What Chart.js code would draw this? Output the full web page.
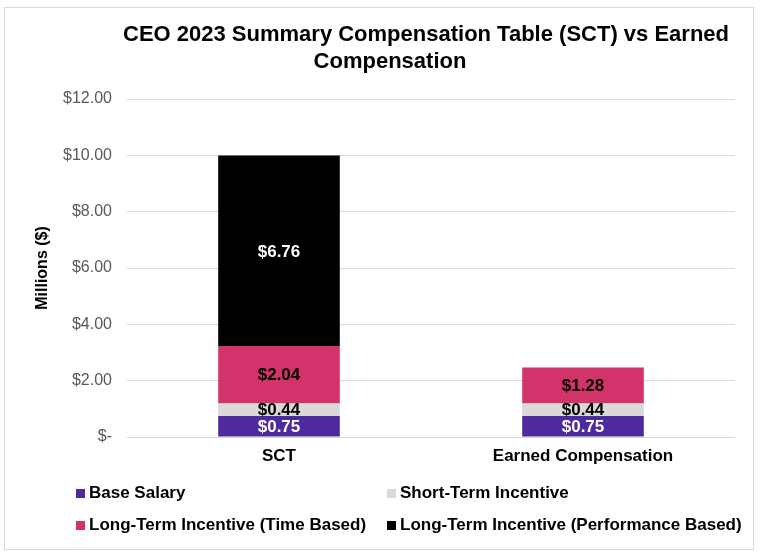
<!DOCTYPE html>
<html>
<head>
<meta charset="utf-8">
<script src="https://cdn.jsdelivr.net/npm/chart.js@4.4.1/dist/chart.umd.min.js"></script>
<style>
  body { margin: 0; background: #fff; font-family: "Liberation Sans", Arial, sans-serif; }
  #wrap { position: relative; width: 761px; height: 557px; }
  #frame { position: absolute; left: 4px; top: 7px; width: 750px; height: 543px; border: 1px solid #d9d9d9; box-sizing: border-box; }
  canvas { position: absolute; left: 0; top: 0; }
  .leg { position: absolute; font-weight: bold; font-size: 17px; color: #000; line-height: 20px; white-space: nowrap; }
  .leg span { position: absolute; left: -13px; top: 6px; width: 9px; height: 9px; }
</style>
</head>
<body>
<div id="wrap">
  <div id="frame"></div>
  <canvas id="grafico" width="761" height="557"></canvas>
  <div id="leyenda"></div>
</div>
<script>
// datos (millones de dolares)
const categorias = ['SCT', 'Earned Compensation'];
const series = ['Base Salary', 'Short-Term Incentive', 'Long-Term Incentive (Time Based)', 'Long-Term Incentive (Performance Based)'];
const baseSalary = [0.75, 0.75];
const shortTerm = [0.44, 0.44];
const ltiTiempo = [2.04, 1.28];
const ltiDesempeno = [6.76, null];
const ticksY = [0, 2, 4, 6, 8, 10, 12];

const colores = ['#4f2a9f', '#d9d9d9', '#d1336a', '#000000'];
const coloresTexto = ['#ffffff', '#000000', '#000000', '#ffffff'];
const fuente = '"Liberation Sans", Arial, sans-serif';

//Formato de los ticks: 0 se muestra como "$-"
const formatoDolar = (v) => v === 0 ? '$-' : '$' + v.toFixed(2);

//Dibuja el titulo en dos lineas
const tituloPlugin = {
  id: 'titulo',
  afterDraw(chart) {
    const ctx = chart.ctx;
    ctx.save();
    ctx.font = 'bold 22px ' + fuente;
    ctx.fillStyle = '#000';
    ctx.textAlign = 'center';
    ctx.textBaseline = 'middle';
    ctx.fillText('CEO 2023 Summary Compensation Table (SCT) vs Earned', 426, 35);
    ctx.fillText('Compensation', 390, 62);
    ctx.restore();
  }
};

//Etiquetas con el valor en el centro de cada segmento
const etiquetasPlugin = {
  id: 'etiquetas',
  afterDatasetsDraw(chart) {
    const ctx = chart.ctx;
    ctx.save();
    ctx.font = 'bold 17px ' + fuente;
    ctx.textAlign = 'center';
    ctx.textBaseline = 'middle';
    chart.data.datasets.forEach((ds, i) => {
      const meta = chart.getDatasetMeta(i);
      meta.data.forEach((barra, j) => {
        const valor = ds.data[j];
        if (!valor) return;
        ctx.fillStyle = coloresTexto[i];
        ctx.fillText('$' + valor.toFixed(2), barra.x, (barra.y + barra.base) / 2 + 1);
      });
    });
    ctx.restore();
  }
};

const datos = [baseSalary, shortTerm, ltiTiempo, ltiDesempeno];

new Chart(document.getElementById('grafico'), {
  type: 'bar',
  data: {
    labels: categorias,
    datasets: series.map((nombre, i) => ({
      label: nombre,
      data: datos[i],
      backgroundColor: colores[i],
      borderWidth: 0,
      barPercentage: 0.4,
      categoryPercentage: 1
    }))
  },
  options: {
    responsive: false,
    animation: false,
    layout: { padding: { left: 33, right: 26, top: 99, bottom: 90 } },
    plugins: {
      legend: { display: false },
      title: { display: false },
      tooltip: { enabled: false }
    },
    scales: {
      x: {
        stacked: true,
        grid: { display: false, drawTicks: false },
        border: { display: false },
        ticks: { color: '#000', padding: 9, font: { family: fuente, size: 17, weight: 'bold' } },
        afterFit: (s) => { s.height = 30; }
      },
      y: {
        stacked: true,
        min: 0,
        max: 12,
        afterBuildTicks: (s) => { s.ticks = ticksY.map(v => ({ value: v })); },
        grid: { color: '#d9d9d9', lineWidth: 1, drawTicks: false },
        border: { display: false },
        ticks: { color: '#595959', padding: 15, font: { family: fuente, size: 16 }, callback: formatoDolar },
        title: { display: true, text: 'Millions ($)', color: '#000', padding: 0, font: { family: fuente, size: 16, weight: 'bold' } },
        afterFit: (s) => { s.width = 94; }
      }
    }
  },
  plugins: [tituloPlugin, etiquetasPlugin]
});

//Leyenda en dos columnas
const posiciones = [[89, 483], [400, 483], [89, 515], [400, 515]];
const leyenda = document.getElementById('leyenda');
series.forEach((nombre, i) => {
  const d = document.createElement('div');
  d.className = 'leg';
  d.style.left = posiciones[i][0] + 'px';
  d.style.top = posiciones[i][1] + 'px';
  d.innerHTML = '<span style="background:' + colores[i] + '"></span>' + nombre;
  leyenda.appendChild(d);
});
</script>
</body>
</html>
